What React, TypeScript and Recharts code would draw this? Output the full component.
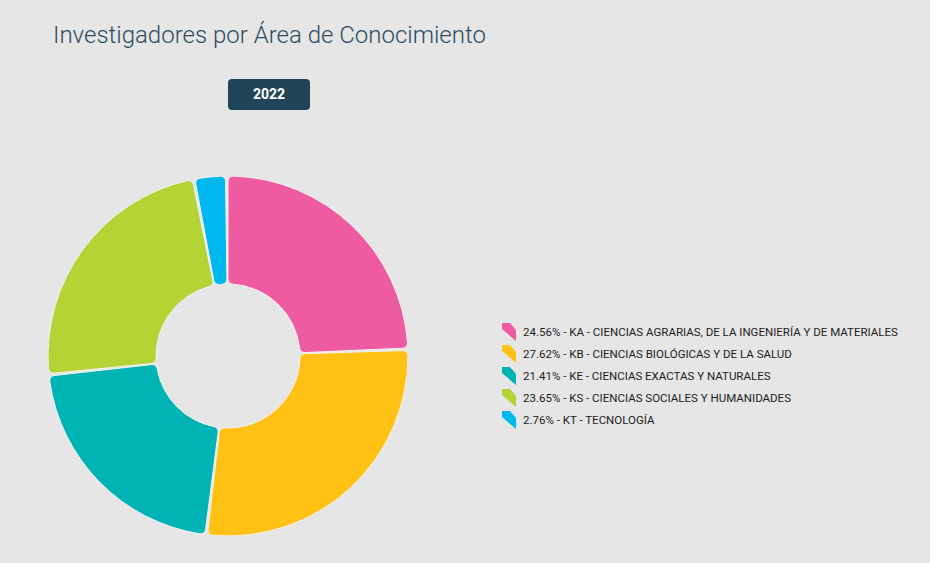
import React from "react";
import { PieChart, Pie, Cell } from "recharts";

const codes = ["KA", "KB", "KE", "KS", "KT"];
const areaNames = [
  "CIENCIAS AGRARIAS, DE LA INGENIERÍA Y DE MATERIALES",
  "CIENCIAS BIOLÓGICAS Y DE LA SALUD",
  "CIENCIAS EXACTAS Y NATURALES",
  "CIENCIAS SOCIALES Y HUMANIDADES",
  "TECNOLOGÍA",
];
const percents = [24.56, 27.62, 21.41, 23.65, 2.76];
const colors = ["#ef5ba1", "#ffc214", "#00b3b4", "#b4d335", "#00b8f0"];

const data = codes.map((code, i) => ({
  name: `${percents[i].toFixed(2)}% - ${code} - ${areaNames[i]}`,
  value: percents[i],
  color: colors[i],
}));

const FONT = "Roboto, 'Noto Sans', sans-serif";

function LegendIcon({ color }: { color: string }) {
  return (
    <svg width={15} height={18} style={{ flex: "none" }}>
      <polygon points="0,0 8,0 14,7 14,18 0,6" fill={color} />
    </svg>
  );
}

export default function App() {
  return (
    <div
      style={{
        position: "relative",
        width: 930,
        height: 563,
        background: "#e6e6e6",
        fontFamily: FONT,
        overflow: "hidden",
      }}
    >
      <style>{"html,body{margin:0;padding:0;background:#e6e6e6;}"}</style>
      <div
        style={{
          position: "absolute",
          left: 53,
          top: 21,
          fontSize: 24,
          fontWeight: 300,
          lineHeight: "28px",
          color: "#2f4b5e",
        }}
      >
        Investigadores por Área de Conocimiento
      </div>
      <div
        style={{
          position: "absolute",
          left: 228,
          top: 79,
          width: 82,
          height: 31,
          borderRadius: 4,
          background: "#1f4658",
          color: "#fff",
          fontWeight: 700,
          fontSize: 14,
          lineHeight: "31px",
          textAlign: "center",
        }}
      >
        2022
      </div>
      <div style={{ position: "absolute", left: 0, top: 0 }}>
        <PieChart width={460} height={563}>
          <Pie
            data={data}
            dataKey="value"
            cx={223}
            cy={351}
            innerRadius={72}
            outerRadius={180}
            startAngle={90}
            endAngle={-270}
            paddingAngle={0.8}
            cornerRadius={5}
            stroke="#f2f2f2"
            strokeWidth={1}
            isAnimationActive={false}
          >
            {data.map((entry, index) => (
              <Cell key={index} fill={entry.color} />
            ))}
          </Pie>
        </PieChart>
      </div>
      <div style={{ position: "absolute", left: 502, top: 323 }}>
        {data.map((entry, index) => (
          <div
            key={index}
            style={{
              display: "flex",
              alignItems: "flex-start",
              height: 22,
            }}
          >
            <LegendIcon color={entry.color} />
            <span
              style={{
                marginLeft: 6,
                fontSize: 11.5,
                lineHeight: "18px",
                color: "#1c1c1c",
                whiteSpace: "nowrap",
              }}
            >
              {entry.name}
            </span>
          </div>
        ))}
      </div>
    </div>
  );
}
